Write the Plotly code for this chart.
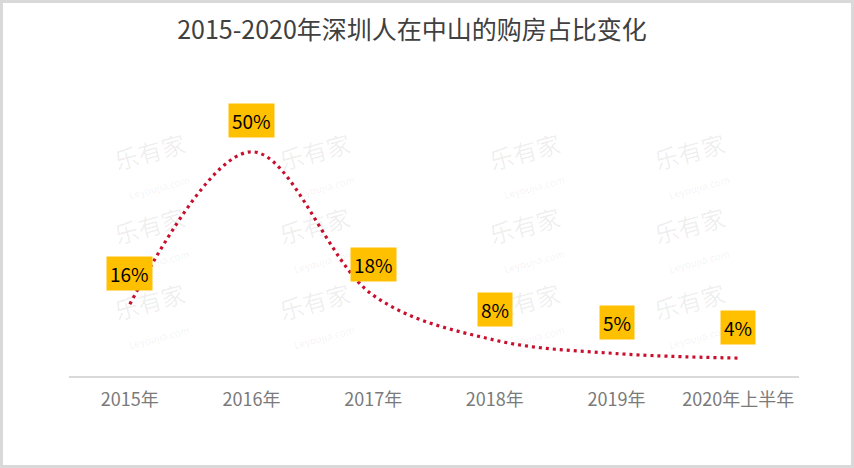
import plotly.graph_objects as go

categories = ["2015年", "2016年", "2017年", "2018年", "2019年", "2020年上半年"]
values = [16, 50, 18, 8, 5, 4]
labels = ["16%", "50%", "18%", "8%", "5%", "4%"]
title = "2015-2020年深圳人在中山的购房占比变化"

W, H = 854, 468
L, R, T, B = 69, 55, 107, 92
pw, ph = W - L - R, H - T - B

FONT = "Noto Sans CJK SC"

fig = go.Figure()
fig.add_trace(go.Scatter(
    x=categories, y=values, mode="lines",
    line=dict(color="#C8102E", width=3.2, dash="3px,4px", shape="spline", smoothing=1.0),
    hoverinfo="skip", showlegend=False,
))

annotations = []
# watermarks
wm_x = [108, 318, 528, 738]
wm_y = [122, 238, 356]
for wx in wm_x:
    for wy in wm_y:
        annotations.append(dict(
            x=(wx - L) / pw, y=(H - B - wy) / ph, xref="paper", yref="paper",
            text="乐有家<br><span style='font-size:10px'>Leyoujia.com</span>",
            showarrow=False, textangle=-15,
            font=dict(family=FONT, size=24, color="rgba(0,0,0,0.07)"),
        ))

for c, v, t in zip(categories, values, labels):
    annotations.append(dict(
        x=c, y=v, xref="x", yref="y", text=t, showarrow=False, yshift=31,
        bgcolor="#FFC000", borderpad=3,
        font=dict(family=FONT, size=19, color="#000000"),
    ))

fig.update_layout(
    width=W, height=H,
    margin=dict(l=L, r=R, t=T, b=B),
    paper_bgcolor="white", plot_bgcolor="white",
    title=dict(text=title, x=412 / W, xanchor="center", y=1 - 30 / H, yanchor="middle",
               font=dict(family=FONT, size=25, color="#404040")),
    xaxis=dict(
        type="category", range=[-0.5, 5.5], showgrid=False, zeroline=False,
        showline=True, linecolor="#D9D9D9", linewidth=2, ticks="",
        ticklabelstandoff=6,
        tickfont=dict(family=FONT, size=18, color="#7A7A7A"),
        fixedrange=True,
    ),
    yaxis=dict(range=[0, 60], visible=False, fixedrange=True),
    annotations=annotations,
    shapes=[dict(
        type="rect", xref="paper", yref="paper",
        x0=-(L - 1.5) / pw, x1=(W - L - 1.5) / pw,
        y0=-(B - 1.5) / ph, y1=(H - B - 1.5) / ph,
        line=dict(color="#D9D9D9", width=3), fillcolor="rgba(0,0,0,0)", layer="below",
    )],
)

fig.write_html(
    "out.html",
    config={"displayModeBar": False},
    post_script="document.body.style.margin='0';document.body.style.overflow='hidden';",
)
